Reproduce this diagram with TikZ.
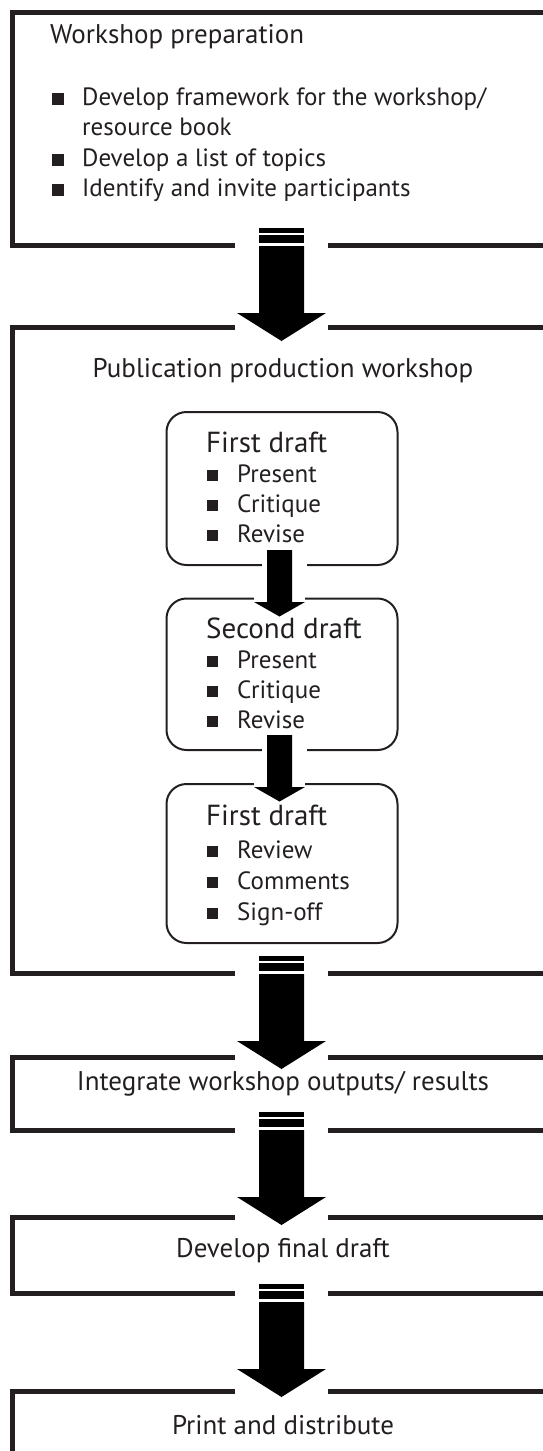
\documentclass[tikz,border=0pt]{standalone}
\usepackage{fontspec}
\setmainfont{PT Sans}
\definecolor{ink}{RGB}{35,31,32}
\tikzset{
  frame/.style={draw=ink,line width=5pt},
  draftbox/.style={draw=ink,line width=2pt,rounded corners=20pt,minimum width=231pt,inner sep=0pt},
  maintext/.style={inner sep=0pt,text=ink,font=\fontsize{27}{30}\selectfont},
  listtext/.style={inner sep=0pt,text=ink,anchor=base west,font=\fontsize{25}{28}\selectfont},
  drafttitle/.style={inner sep=0pt,text=ink,anchor=base west,font=\fontsize{29}{32}\selectfont},
  draftitem/.style={inner sep=0pt,text=ink,anchor=base west,font=\fontsize{25}{28}\selectfont},
  gapfill/.style={fill=white},
  bigarrow/.pic={
    \fill[black] (-22.5,0) rectangle (22.5,4.5);
    \fill[black] (-22.5,7) rectangle (22.5,14.5);
    \fill[black] (-22.5,18) -- (22.5,18) -- (22.5,85) -- (44.5,85) -- (0,113)
      -- (-44.5,85) -- (-22.5,85) -- cycle;
  },
  smallarrow/.pic={
    \fill[black] (-12.5,-52) -- (12.5,-52) -- (12.5,0) -- (25.5,0) -- (0,14.5)
      -- (-25.5,0) -- (-12.5,0) -- cycle;
  }
}
\newcommand{\bigbul}{\makebox[30.5pt][l]{\raisebox{0.5pt}{\rule{12pt}{12pt}}}}
\newcommand{\smallbul}{\makebox[30pt][l]{\raisebox{1.5pt}{\rule{11pt}{11pt}}}}
\begin{document}
\begin{tikzpicture}[x=1pt,y=-1pt]
\useasboundingbox (0,0) rectangle (543,1451);

% ---- frames (open to the right) ----
\draw[frame] (600,12) -- (12.5,12) -- (12.5,245.5) -- (235,245.5);
\draw[frame] (328,245.5) -- (600,245.5);

\draw[frame] (235,327.5) -- (12.5,327.5) -- (12.5,973.5) -- (235,973.5);
\draw[frame] (328,327.5) -- (600,327.5);
\draw[frame] (328,973.5) -- (600,973.5);

\draw[frame] (235,1057.5) -- (12.5,1057.5) -- (12.5,1130.5) -- (235,1130.5);
\draw[frame] (328,1057.5) -- (600,1057.5);
\draw[frame] (328,1130.5) -- (600,1130.5);

\draw[frame] (235,1217) -- (12.5,1217) -- (12.5,1293) -- (235,1293);
\draw[frame] (328,1217) -- (600,1217);
\draw[frame] (328,1293) -- (600,1293);

\draw[frame] (235,1391) -- (12.5,1391) -- (12.5,1480);
\draw[frame] (328,1391) -- (600,1391);

% ---- box 1 text ----
\node[maintext,anchor=base west] (prep) at (50,43) {Workshop preparation};
\node[listtext] (p1) at (51.5,105) {\bigbul Develop framework for the workshop/};
\node[listtext] (p1b) at (82,135) {resource book};
\node[listtext] (p2) at (51.5,166) {\bigbul Develop a list of topics};
\node[listtext] (p3) at (51.5,196) {\bigbul Identify and invite participants};

% ---- box 2 ----
\node[maintext,anchor=base] (pub) at (283,377) {Publication production workshop};

\node[draftbox,minimum height=153pt] (d1) at (282,488.5) {};
\node[draftbox,minimum height=151.5pt] (d2) at (282,674.25) {};
\node[draftbox,minimum height=159pt] (d3) at (282,863.5) {};

\fill[gapfill] (262,562) rectangle (307,568);
\fill[gapfill] (254,595.5) rectangle (305,601.5);
\fill[gapfill] (262,747) rectangle (307,753);
\fill[gapfill] (254,781) rectangle (305,787);

\node[drafttitle] (d1t) at (206,452) {First draft};
\node[draftitem] (d1a) at (207,482) {\smallbul Present};
\node[draftitem] (d1b) at (207,512) {\smallbul Critique};
\node[draftitem] (d1c) at (207,542) {\smallbul Revise};

\node[drafttitle] (d2t) at (206,638) {Second draft};
\node[draftitem] (d2a) at (207,668) {\smallbul Present};
\node[draftitem] (d2b) at (207,698) {\smallbul Critique};
\node[draftitem] (d2c) at (207,728) {\smallbul Revise};

\node[drafttitle] (d3t) at (206,825) {First draft};
\node[draftitem] (d3a) at (207,858) {\smallbul Review};
\node[draftitem] (d3b) at (207,889) {\smallbul Comments};
\node[draftitem] (d3c) at (207,920) {\smallbul Sign-off};

\coordinate (s1) at (279.5,602);
\coordinate (s2) at (279.5,787);
\pic at (s1) {smallarrow};
\pic at (s2) {smallarrow};

% ---- other boxes ----
\node[maintext,anchor=base] (integ) at (283,1090) {Integrate workshop outputs/ results};
\node[maintext,anchor=base] (final) at (283,1257) {Develop final draft};
\node[maintext,anchor=base] (print) at (283,1434) {Print and distribute};

% ---- big arrows ----
\coordinate (a1) at (281.5,228);
\coordinate (a2) at (281.5,956);
\coordinate (a3) at (281.5,1112);
\coordinate (a4) at (281.5,1284);
\pic at (a1) {bigarrow};
\pic at (a2) {bigarrow};
\pic at (a3) {bigarrow};
\pic at (a4) {bigarrow};
\end{tikzpicture}
\end{document}
